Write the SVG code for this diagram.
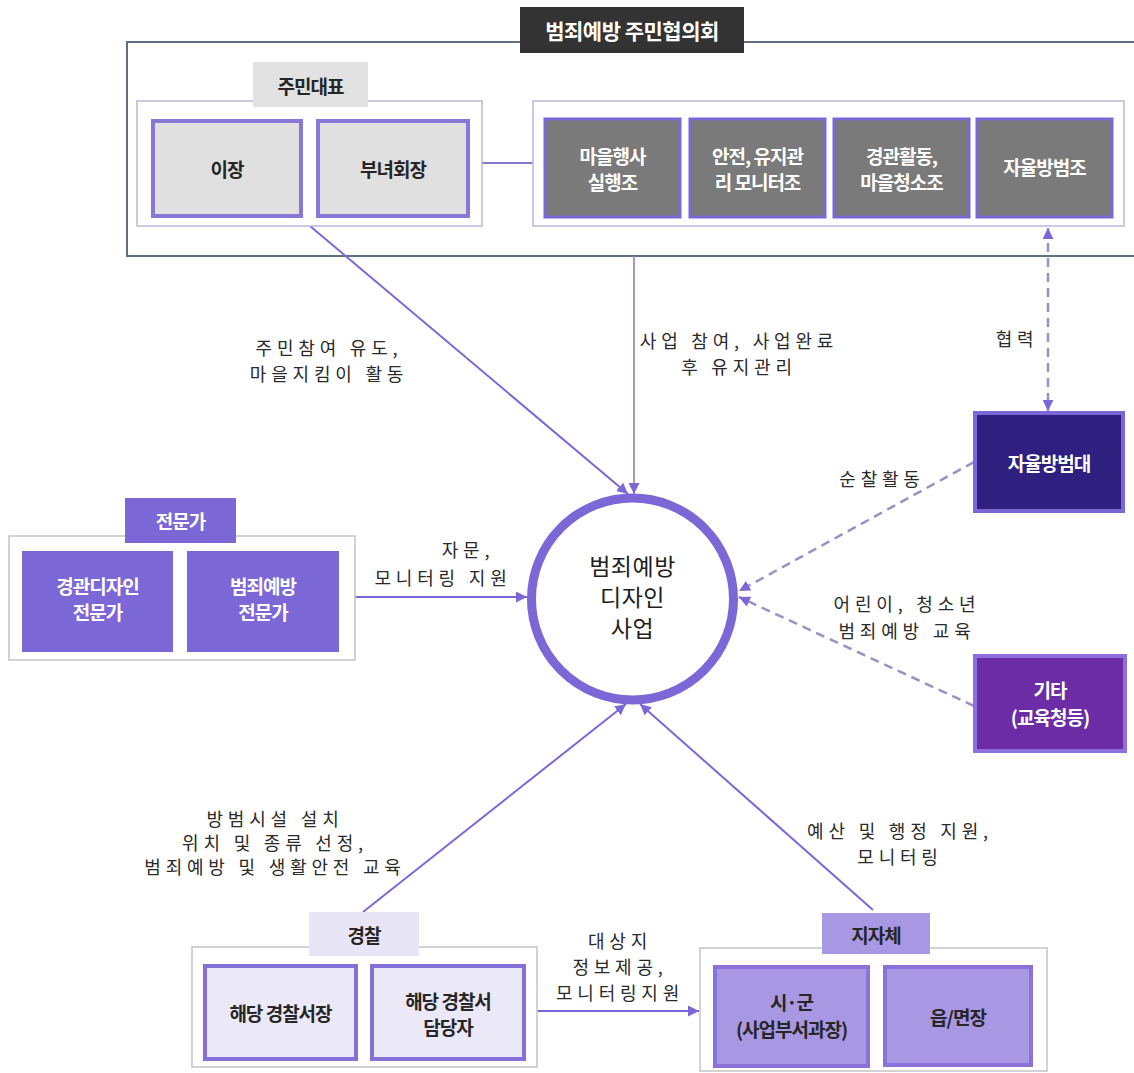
<svg xmlns="http://www.w3.org/2000/svg" width="1134" height="1073" viewBox="0 0 1134 1073">
<style>
.box{font-family:"Noto Sans CJK KR","Noto Sans",sans-serif;font-weight:700;font-size:19px;text-anchor:middle;dominant-baseline:central;letter-spacing:-1px}
.w{fill:#ffffff}
.d{fill:#262626}
.lbl{font-family:"Noto Sans CJK KR","Noto Sans",sans-serif;font-weight:400;font-size:18px;text-anchor:middle;dominant-baseline:central;letter-spacing:4.8px;fill:#2a2a2a}
.ctr{font-family:"Noto Sans CJK KR","Noto Sans",sans-serif;font-weight:400;font-size:23px;text-anchor:middle;dominant-baseline:central;letter-spacing:0.5px;fill:#1e1e1e}
.frame{fill:#ffffff;stroke:#bdb6d8;stroke-width:1.5}
.gframe{fill:#ffffff;stroke:#c4c4c4;stroke-width:1.5}
.ln{fill:none;stroke:#7b68d6;stroke-width:2}
.dash{fill:none;stroke:#9a90c4;stroke-width:2.5;stroke-dasharray:9 6}
</style>
<defs>
<marker id="ah" viewBox="0 0 10 10" refX="10" refY="5" markerWidth="11" markerHeight="11" markerUnits="userSpaceOnUse" orient="auto-start-reverse">
<path d="M0,0 L10,5 L0,10 z" fill="#7b68d6"/>
</marker>
</defs>
<rect width="1134" height="1073" fill="#ffffff"/>

<g id="council">
<rect x="127" y="42" width="1030" height="214" fill="none" stroke="#5f7080" stroke-width="2"/>
<rect x="520" y="7" width="224" height="46" fill="#333333"/>
<text x="632" y="30" class="box w" style="font-size:21px;letter-spacing:-0.5px">범죄예방 주민협의회</text>
</g>

<g id="connectors">
<line x1="482" y1="163" x2="533" y2="163" stroke="#8a78d0" stroke-width="2"/>
<line x1="310" y1="226" x2="628" y2="494" class="ln" marker-end="url(#ah)"/>
<line x1="634" y1="256" x2="634" y2="494" stroke="#9a90c4" stroke-width="1.8" marker-end="url(#ah)"/>
<line x1="1048" y1="228" x2="1048" y2="411" class="dash" marker-start="url(#ah)" marker-end="url(#ah)"/>
<line x1="974" y1="462" x2="739" y2="591" class="dash" marker-end="url(#ah)"/>
<line x1="974" y1="706" x2="739" y2="597" class="dash" marker-end="url(#ah)"/>
<line x1="355" y1="597" x2="527" y2="597" class="ln" marker-end="url(#ah)"/>
<line x1="363" y1="912" x2="626" y2="704" class="ln" marker-end="url(#ah)"/>
<line x1="873" y1="910" x2="640" y2="704" class="ln" marker-end="url(#ah)"/>
<line x1="537" y1="1011" x2="699" y2="1011" class="ln" marker-end="url(#ah)"/>
<text class="lbl" x="329" y="347">주민참여 유도,</text>
<text class="lbl" x="329" y="373">마을지킴이 활동</text>
<text class="lbl" x="739" y="340">사업 참여, 사업완료</text>
<text class="lbl" x="739" y="366">후 유지관리</text>
<text class="lbl" x="1017" y="338">협력</text>
<text class="lbl" x="882" y="478">순찰활동</text>
<text class="lbl" x="907" y="603">어린이, 청소년</text>
<text class="lbl" x="907" y="630">범죄예방 교육</text>
<text class="lbl" x="468" y="549">자문,</text>
<text class="lbl" x="443" y="577">모니터링 지원</text>
<text class="lbl" x="275" y="818">방범시설 설치</text>
<text class="lbl" x="275" y="842">위치 및 종류 선정,</text>
<text class="lbl" x="275" y="866">범죄예방 및 생활안전 교육</text>
<text class="lbl" x="900" y="830">예산 및 행정 지원,</text>
<text class="lbl" x="900" y="856">모니터링</text>
<text class="lbl" x="620" y="940">대상지</text>
<text class="lbl" x="620" y="966">정보제공,</text>
<text class="lbl" x="620" y="992">모니터링지원</text>
</g>

<g id="residents">
<rect x="137" y="101" width="345" height="125" class="frame"/>
<rect x="253" y="62" width="115" height="45" fill="#e2e2e2"/>
<text x="310.5" y="85" class="box d">주민대표</text>
</g>
<g id="ijang">
<rect x="153" y="121" width="148" height="95" fill="#e0e0e0" stroke="#8a78d8" stroke-width="4"/>
<text x="227" y="168" class="box d">이장</text>
</g>
<g id="bunyeo">
<rect x="318" y="121" width="150" height="95" fill="#e0e0e0" stroke="#8a78d8" stroke-width="4"/>
<text x="393" y="168" class="box d">부녀회장</text>
</g>

<g id="teams">
<rect x="533" y="101" width="591" height="125" class="frame"/>
</g>
<g id="team1">
<rect x="545" y="119" width="135" height="98" fill="#7a7a7a" stroke="#7b68d6" stroke-width="3"/>
<text x="612.5" y="155" class="box w">마을행사</text>
<text x="612.5" y="181" class="box w">실행조</text>
</g>
<g id="team2">
<rect x="690" y="119" width="135" height="98" fill="#7a7a7a" stroke="#7b68d6" stroke-width="3"/>
<text x="757.5" y="155" class="box w">안전, 유지관</text>
<text x="757.5" y="181" class="box w">리 모니터조</text>
</g>
<g id="team3">
<rect x="834" y="119" width="135" height="98" fill="#7a7a7a" stroke="#7b68d6" stroke-width="3"/>
<text x="901.5" y="155" class="box w">경관활동,</text>
<text x="901.5" y="181" class="box w">마을청소조</text>
</g>
<g id="team4">
<rect x="977" y="119" width="135" height="98" fill="#7a7a7a" stroke="#7b68d6" stroke-width="3"/>
<text x="1044.5" y="166" class="box w">자율방범조</text>
</g>

<g id="center">
<circle cx="632.5" cy="599" r="101" fill="#ffffff" stroke="#7b68d6" stroke-width="9"/>
<text x="632.5" y="565" class="ctr">범죄예방</text>
<text x="632.5" y="596" class="ctr">디자인</text>
<text x="632.5" y="627" class="ctr">사업</text>
</g>

<g id="experts">
<rect x="9" y="536" width="346" height="124" class="gframe"/>
<rect x="125" y="498" width="111" height="45" fill="#7b68d6"/>
<text x="180.5" y="520" class="box w">전문가</text>
</g>
<g id="expert1">
<rect x="22" y="551" width="151" height="101" fill="#7b68d6"/>
<text x="97.5" y="585" class="box w">경관디자인</text>
<text x="97.5" y="611" class="box w">전문가</text>
</g>
<g id="expert2">
<rect x="187" y="551" width="152" height="101" fill="#7b68d6"/>
<text x="263" y="585" class="box w">범죄예방</text>
<text x="263" y="611" class="box w">전문가</text>
</g>

<g id="patrol">
<rect x="975" y="413" width="148" height="98" fill="#2f2080" stroke="#7b68d6" stroke-width="4"/>
<text x="1049" y="462" class="box w">자율방범대</text>
</g>

<g id="etc">
<rect x="975" y="656" width="150" height="95" fill="#6b2ca5" stroke="#8d70dc" stroke-width="4"/>
<text x="1050" y="689" class="box w">기타</text>
<text x="1050" y="716" class="box w">(교육청등)</text>
</g>

<g id="police">
<rect x="192" y="947" width="345" height="120" class="gframe"/>
<rect x="309" y="912" width="110" height="44" fill="#e8e5f7"/>
<text x="364" y="934" class="box d">경찰</text>
</g>
<g id="police1">
<rect x="205" y="966" width="151" height="93" fill="#ebe8f8" stroke="#8470d6" stroke-width="4"/>
<text x="280.5" y="1012" class="box d">해당 경찰서장</text>
</g>
<g id="police2">
<rect x="372" y="966" width="152" height="93" fill="#ebe8f8" stroke="#8470d6" stroke-width="4"/>
<text x="448" y="1000" class="box d">해당 경찰서</text>
<text x="448" y="1026" class="box d">담당자</text>
</g>

<g id="local">
<rect x="700" y="948" width="347" height="123" class="gframe"/>
<rect x="822" y="913" width="108" height="41" fill="#a897e3"/>
<text x="876" y="934" class="box d">지자체</text>
</g>
<g id="local1">
<rect x="715" y="967" width="153" height="99" fill="#a897e3" stroke="#8a72d8" stroke-width="4"/>
<text x="791.5" y="1001" class="box d">시·군</text>
<text x="791.5" y="1028" class="box d">(사업부서과장)</text>
</g>
<g id="local2">
<rect x="885" y="967" width="146" height="98" fill="#a897e3" stroke="#8a72d8" stroke-width="4"/>
<text x="958" y="1016" class="box d">읍/면장</text>
</g>
</svg>
